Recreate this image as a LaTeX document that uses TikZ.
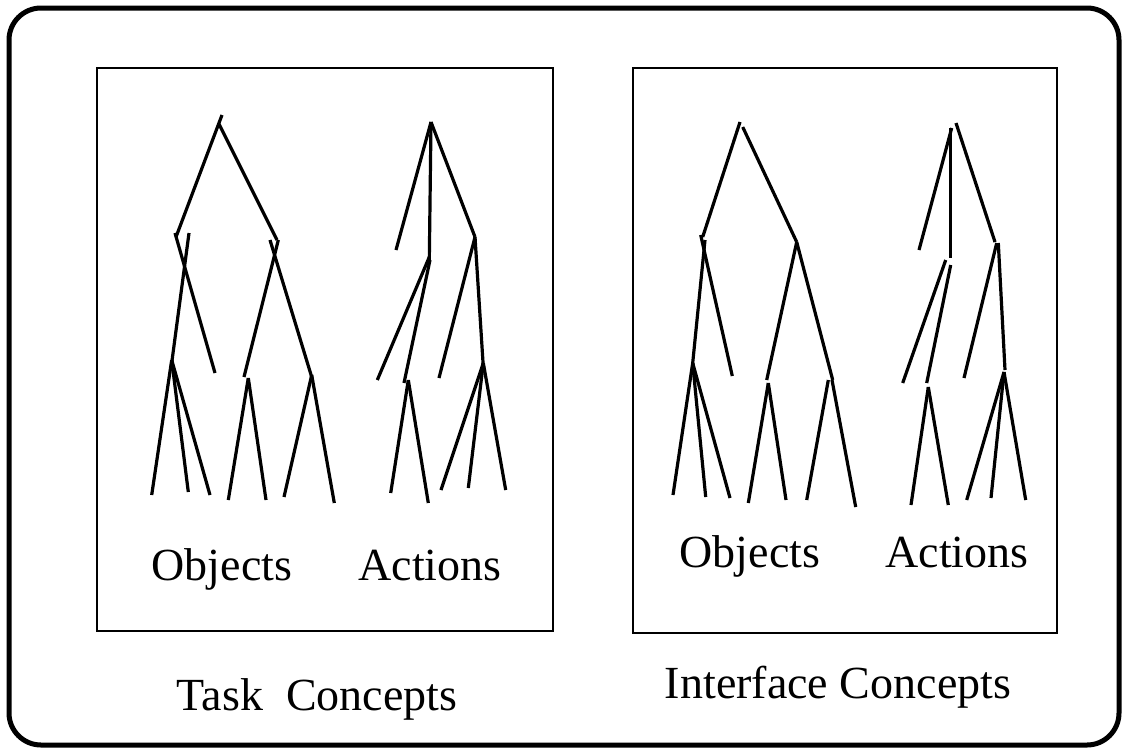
\documentclass[tikz,border=0pt]{standalone}
\usepackage{fontspec}
\setmainfont{Liberation Serif}
\usepackage{tikz}
\usetikzlibrary{calc}

\begin{document}
\begin{tikzpicture}[x = 0.5pt, y = -0.5pt,
    ramo/.style = {line width = 1.6pt},
    etichetta/.style = {anchor = base, inner sep = 0pt, font = \fontsize{23}{27}\selectfont}]
    % Parametri
    \pgfmathsetmacro{\W}{1124}
    \pgfmathsetmacro{\H}{750}
    \useasboundingbox (0,0) rectangle (\W,\H);
    % Riquadri
    \draw[line width = 2.5pt, rounded corners = 16pt] (9,8) rectangle (1119,745);
    \draw[line width = 1pt] (97,68) rectangle (553,631);
    \draw[line width = 1pt] (633,68) rectangle (1057,633);
    % Albero: oggetti (compito)
    \draw[ramo] (222,115) -- (176,237);
    \draw[ramo] (219,124) -- (277,240);
    \draw[ramo] (175,233) -- (215,373);
    \draw[ramo] (189,233) -- (171.7,363);
    \foreach \x/\y in {151.7/495, 188.3/492, 210/495}{
        \draw[ramo] (171.7,360) -- (\x,\y);
    }
    \draw[ramo] (278.3,240) -- (244,377);
    \draw[ramo] (270,240) -- (311.7,377);
    \draw[ramo] (248.3,378) -- (228.3,500);
    \draw[ramo] (248.3,378) -- (266,500);
    \draw[ramo] (311.7,375) -- (284,497);
    \draw[ramo] (311.7,375) -- (334.3,503);
    % Albero: azioni (compito)
    \foreach \x/\y in {396/250, 429.3/260, 475/237}{
        \draw[ramo] (431,122) -- (\x,\y);
    }
    \draw[ramo] (429.3,257) -- (377.3,380);
    \draw[ramo] (430,260) -- (404,383);
    \draw[ramo] (475,237) -- (439,378);
    \draw[ramo] (475,237) -- (483.3,367);
    \draw[ramo] (408.3,380) -- (390.7,493);
    \draw[ramo] (408.3,380) -- (428.3,503);
    \foreach \x/\y in {441/490, 468.3/488, 505.7/490}{
        \draw[ramo] (483.3,363) -- (\x,\y);
    }
    % Albero: oggetti (interfaccia)
    \draw[ramo] (740,122) -- (702.7,237);
    \draw[ramo] (742.7,127) -- (796.7,242);
    \draw[ramo] (700.7,235) -- (732.3,376);
    \draw[ramo] (705,240) -- (692.7,363);
    \foreach \x/\y in {673/495, 705.7/497, 730/498}{
        \draw[ramo] (692.7,363) -- (\x,\y);
    }
    \draw[ramo] (796.7,242) -- (766.7,380);
    \draw[ramo] (796.7,242) -- (832.7,380);
    \draw[ramo] (768.3,383) -- (748.3,503);
    \draw[ramo] (768.3,383) -- (786,500);
    \draw[ramo] (828.3,380) -- (806.7,500);
    \draw[ramo] (832,380) -- (855.7,507);
    % Albero: azioni (interfaccia)
    \draw[ramo] (956,123) -- (995,242);
    \draw[ramo] (951.7,128) -- (919,250);
    \draw[ramo] (950.7,128) -- (950.7,258);
    \draw[ramo] (996.7,243) -- (964,378);
    \draw[ramo] (998.3,243) -- (1005,370);
    \draw[ramo] (945.7,260) -- (902.7,383);
    \draw[ramo] (950.7,265) -- (926.7,383);
    \draw[ramo] (928.3,387) -- (911,505);
    \draw[ramo] (928.3,387) -- (948.3,505);
    \foreach \x/\y in {966.7/500, 991/498, 1025.7/500}{
        \draw[ramo] (1004,372) -- (\x,\y);
    }
    % Etichette
    \node[etichetta] (oggT) at (222,580) {Objects};
    \node[etichetta] (azT) at (430,580) {Actions};
    \node[etichetta] (oggI) at (750,567) {Objects};
    \node[etichetta] (azI) at (957,567) {Actions};
    \node[etichetta] (task) at (317,710) {Task~~Concepts};
    \node[etichetta] (interf) at (838,698) {Interface Concepts};
\end{tikzpicture}
\end{document}
